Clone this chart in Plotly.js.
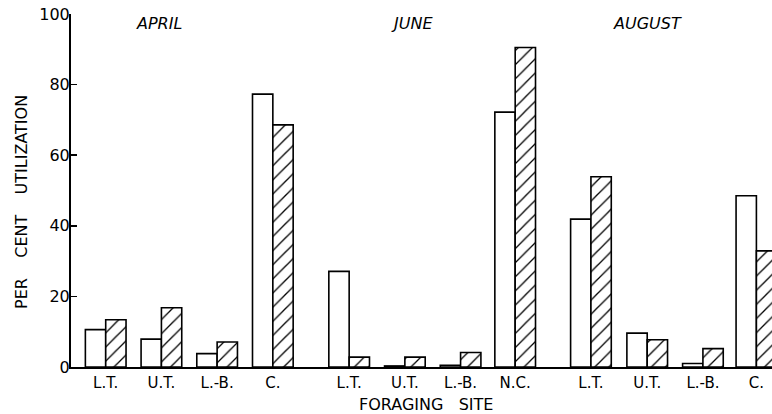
<!DOCTYPE html>
<html>
<head>
<meta charset="utf-8">
<script src="https://cdn.plot.ly/plotly-3.0.1.min.js"></script>
<style>html,body{margin:0;padding:0;background:#fff;}#chart{width:772px;height:414px;}</style>
</head>
<body>
<div id="chart"></div>
<script>
// Foraging site labels (three months, four sites each)
const siteLabels = ['L.T.','U.T.','L.-B.','C.','L.T.','U.T.','L.-B.','N.C.','L.T.','U.T.','L.-B.','C.'];
// Position of each site along the axis (groups separated by a wider gap)
const sitePositions = [0,1,2,3,4.37,5.37,6.37,7.35,8.71,9.72,10.72,11.68];
// Per cent utilization, open bars
const openValues = [10.6,7.9,3.8,77.3, 27.1,0.3,0.5,72.2, 41.9,9.6,1.0,48.5];
// Per cent utilization, hatched bars
const hatchedValues = [13.4,16.8,7.1,68.6, 2.8,2.8,4.1,90.5, 53.9,7.7,5.2,32.9];
// Month labels and their centres on the axis
const months = ['APRIL','JUNE','AUGUST'];
const monthCenters = [0.96,5.5,9.72];
// y-axis ticks
const yTicks = [0,20,40,60,80,100];

const FONT = 'DejaVu Sans, Arial, sans-serif';
const barW = 0.365;
const pxTop = 14, pxBottom = 367, plotH = pxBottom - pxTop;
const paperY = py => (pxBottom - py) / plotH;
const paperX = px => (px - 71) / 701;

const traces = [
  {
    type:'bar', x: sitePositions, y: openValues, width: barW, offset: -barW,
    marker:{color:'#ffffff', line:{color:'#000', width:1.6}},
    hoverinfo:'skip', showlegend:false
  },
  {
    type:'bar', x: sitePositions, y: hatchedValues, width: barW, offset: 0,
    marker:{color:'#ffffff', line:{color:'#000', width:1.6},
      pattern:{shape:'/', size:10, solidity:0.13, fgcolor:'#000', fgopacity:1, bgcolor:'#fff', fillmode:'overlay'}},
    hoverinfo:'skip', showlegend:false
  }
];

const annotations = months.map((m,i)=>({
  text:m, x:monthCenters[i], xref:'x', y:paperY(23.5), yref:'paper', yanchor:'middle',
  showarrow:false, font:{family:FONT, size:16, color:'#000', style:'italic'}
}));
annotations.push({
  text:'PER\u00A0\u00A0\u00A0\u00A0CENT\u00A0\u00A0\u00A0\u00A0UTILIZATION', textangle:-90,
  xref:'paper', yref:'paper', x:paperX(21), y:paperY(202),
  xanchor:'center', yanchor:'middle', showarrow:false,
  font:{family:FONT, size:16, color:'#000'}
});
annotations.push({
  text:'FORAGING\u00A0\u00A0\u00A0SITE',
  xref:'paper', yref:'paper', x:paperX(425.5), y:paperY(405),
  xanchor:'center', yanchor:'middle', showarrow:false,
  font:{family:FONT, size:16, color:'#000'}
});

const layout = {
  width:772, height:414,
  margin:{l:71, r:0, t:pxTop, b:414-pxBottom, pad:0},
  paper_bgcolor:'#fff', plot_bgcolor:'#fff',
  barmode:'overlay',
  font:{family:FONT, color:'#000'},
  xaxis:{
    range:[-0.623, 11.96], tickmode:'array', tickvals: sitePositions, ticktext: siteLabels,
    showline:true, linecolor:'#000', linewidth:2, showgrid:false, zeroline:false,
    ticks:'outside', ticklen:1, tickcolor:'rgba(0,0,0,0)',
    tickfont:{family:FONT, size:15, color:'#000'}
  },
  yaxis:{
    range:[0,100], tickmode:'array', tickvals: yTicks, ticktext: yTicks.map(String),
    showline:true, linecolor:'#000', linewidth:2, showgrid:false, zeroline:false,
    ticks:'inside', ticklen:6, tickwidth:1.5, tickcolor:'#000',
    ticklabelstandoff:-4,
    tickfont:{family:FONT, size:16, color:'#000'}
  },
  annotations: annotations
};

Plotly.newPlot('chart', traces, layout, {staticPlot:true, displayModeBar:false});
</script>
</body>
</html>
